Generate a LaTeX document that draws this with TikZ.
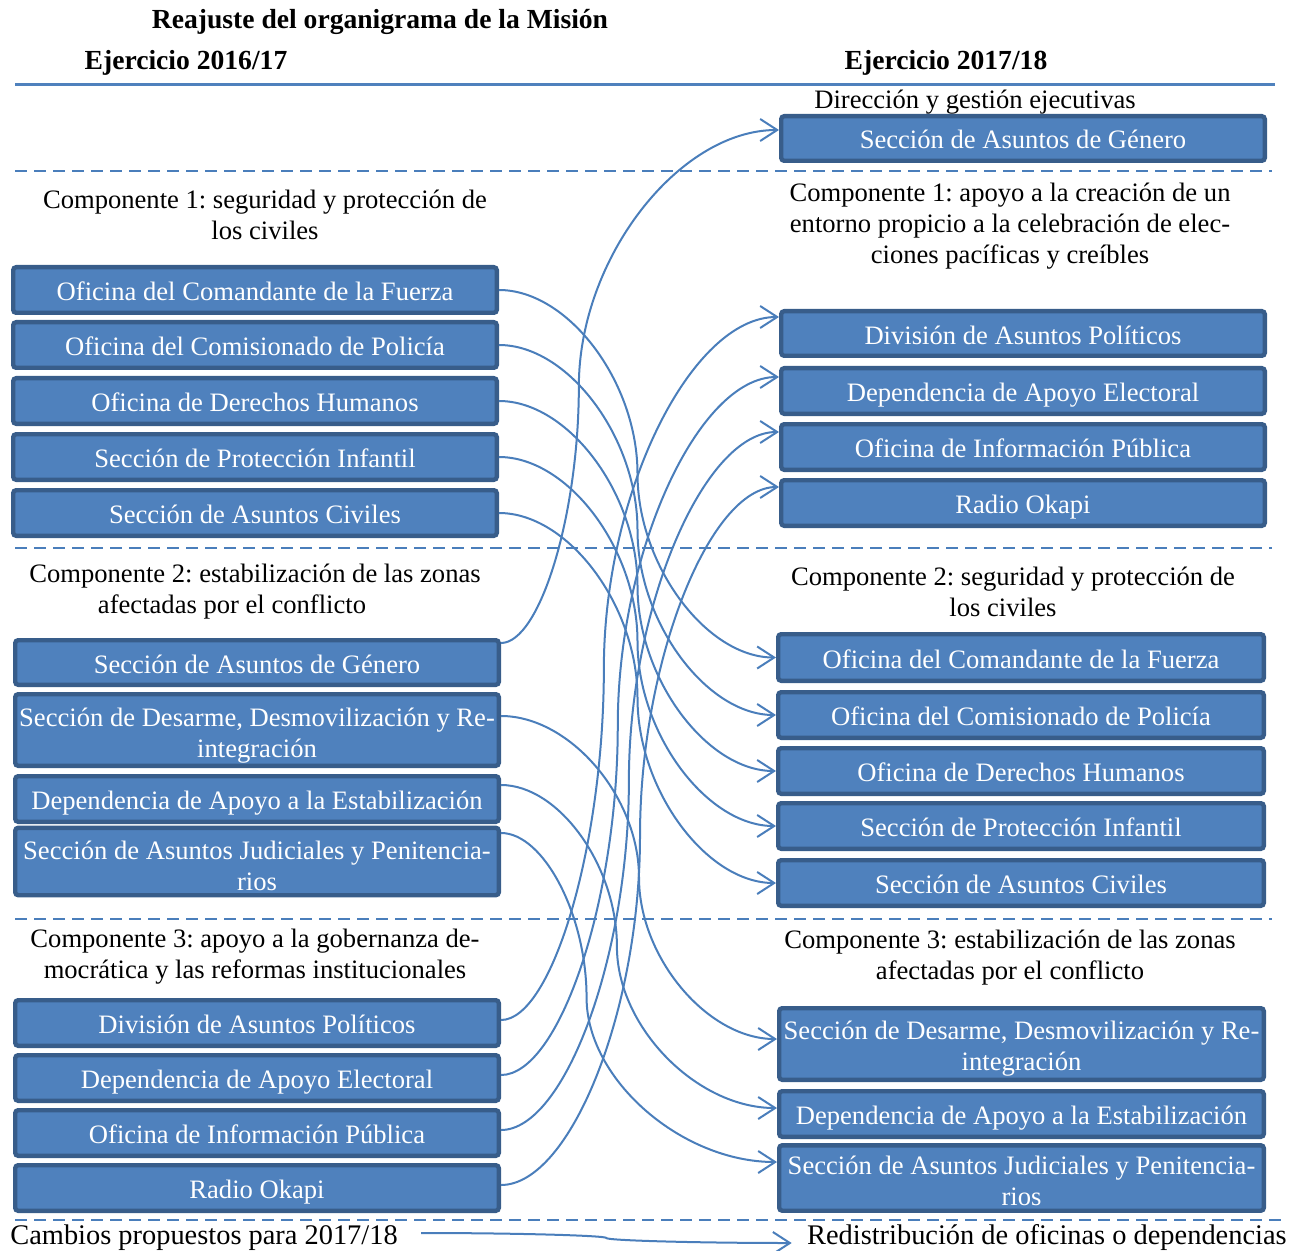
\documentclass[tikz,border=0pt]{standalone}
\usepackage{fontspec}
\setmainfont{Liberation Serif}
\usetikzlibrary{arrows.meta,calc}

\definecolor{boxfill}{HTML}{4F81BD}
\definecolor{boxedge}{HTML}{385D8A}
\definecolor{linkc}{HTML}{4A7EBB}

% invisible strut that fixes line height and depth
\newcommand\lnstrut{\rule[-2.5pt]{0pt}{15.5pt}}
% invisible strut that lifts the top of a first line
\newcommand\topstrut[1]{\rule{0pt}{#1}}

\begin{document}
\frenchspacing
\begin{tikzpicture}[x=0.5pt,y=-0.5pt,
  txt/.style={inner sep=0pt, execute at begin node=\lnstrut, execute at end node=\lnstrut},
  box/.style={txt, draw=boxedge, fill=boxfill, line width=2.2pt, rounded corners=1.5pt,
    text=white, align=center, font=\fontsize{13.3}{15.5}\selectfont},
  wd/.style={minimum width={(#1)*0.5pt-2.2pt}},
  ht/.style={minimum height={(#1)*0.5pt-2.2pt}},
  head/.style={txt, align=center, font=\fontsize{13.3}{15.5}\selectfont},
  ttl/.style={txt, font=\fontsize{13.8}{16}\selectfont\bfseries},
  legend/.style={txt, font=\fontsize{14.2}{16}\selectfont},
  sep/.style={draw=linkc, line width=1pt, dash pattern=on 6pt off 3.5pt},
  link/.style={draw=linkc, line width=1pt,
    -{Straight Barb[length=8.5pt,width=11pt,line width=1pt]}},
  % curved connector: horizontal at both ends, vertical at the middle,
  % the middle sitting at fraction #1 of the horizontal distance
  wc/.style={to path={
    let \p1=(\tikztostart), \p2=(\tikztotarget),
        \p3=({\x1+#1*(\x2-\x1)},{0.5*(\y1+\y2)}) in
    .. controls ({0.5*(\x1+\x3)},\y1) and (\x3,{0.5*(\y1+\y3)}) .. (\p3)
    .. controls (\x3,{0.5*(\y3+\y2)}) and ({0.5*(\x3+\x2)},\y2) .. (\tikztotarget)}},
  wc/.default=0.5]

\useasboundingbox (0,0) rectangle (1300,1251);

% titles
\node[ttl] (title) at (380,19) {Reajuste del organigrama de la Misión};
\node[ttl] (yearL) at (186,59) {Ejercicio 2016/17};
\node[ttl] (yearR) at (946,59) {Ejercicio 2017/18};
\draw[draw=boxfill, line width=1.5pt] (15,85) -- (1275,85);

% section separators
\draw[sep] (15,171) -- (1272,171);
\draw[sep] (15,548) -- (1272,548);
\draw[sep] (15,919) -- (1272,919);
\draw[sep] (15,1220) -- (1285,1220);

% ---------- 2016/17 ----------
\node[head] (hL1) at (265,217) {Componente 1: seguridad y protección de\\los civiles};
\node[box,wd=488,ht=50] (L1) at (255,290) {Oficina del Comandante de la Fuerza};
\node[box,wd=488,ht=50] (L2) at (255,345) {Oficina del Comisionado de Policía};
\node[box,wd=488,ht=50] (L3) at (255,401) {Oficina de Derechos Humanos};
\node[box,wd=488,ht=50] (L4) at (255,457) {Sección de Protección Infantil};
\node[box,wd=488,ht=50] (L5) at (255,513) {Sección de Asuntos Civiles};

\node[head] (hL2) at (255,592) {Componente 2: estabilización de las zonas\\afectadas por el conflicto\kern23pt};
\node[box,wd=488,ht=49] (L6) at (257,662.5) {Sección de Asuntos de Género};
\node[box,wd=488,ht=76] (L7) at (257,730) {\topstrut{14.8pt}Sección de Desarme, Desmovilización y Re-\\integración};
\node[box,wd=488,ht=50] (L8) at (257,799) {Dependencia de Apoyo a la Estabilización};
\node[box,wd=488,ht=63] (L9) at (257,861.5) {\topstrut{15.7pt}Sección de Asuntos Judiciales y Penitencia-\\rios};

\node[head] (hL3) at (255,957) {Componente 3: apoyo a la gobernanza de-\\mocrática y las reformas institucionales};
\node[box,wd=488,ht=50] (L10) at (257,1023) {División de Asuntos Políticos};
\node[box,wd=488,ht=50] (L11) at (257,1078) {Dependencia de Apoyo Electoral};
\node[box,wd=488,ht=50] (L12) at (257,1133) {Oficina de Información Pública};
\node[box,wd=488,ht=50] (L13) at (257,1188) {Radio Okapi};

% ---------- 2017/18 ----------
\node[head] (hR0) at (975,98) {Dirección y gestión ejecutivas};
\node[box,wd=488,ht=49] (RG) at (1023,138.5) {Sección de Asuntos de Género};

\node[head] (hR1) at (1010,226.5) {Componente 1: apoyo a la creación de un\\entorno propicio a la celebración de elec-\\ciones pacíficas y creíbles};
\node[box,wd=488,ht=49] (R1) at (1023,333.5) {División de Asuntos Políticos};
\node[box,wd=488,ht=50] (R2) at (1023,391) {Dependencia de Apoyo Electoral};
\node[box,wd=488,ht=50] (R3) at (1023,447) {Oficina de Información Pública};
\node[box,wd=488,ht=50] (R4) at (1023,503) {Radio Okapi};

\node[head] (hR2) at (1013,594) {Componente 2: seguridad y protección de\\los civiles\kern10pt};
\node[box,wd=490,ht=51] (R5) at (1021,657.5) {Oficina del Comandante de la Fuerza};
\node[box,wd=490,ht=50] (R6) at (1021,715) {Oficina del Comisionado de Policía};
\node[box,wd=490,ht=50] (R7) at (1021,771) {Oficina de Derechos Humanos};
\node[box,wd=490,ht=50] (R8) at (1021,826) {Sección de Protección Infantil};
\node[box,wd=490,ht=50] (R9) at (1021,883) {Sección de Asuntos Civiles};

\node[head] (hR3) at (1010,958) {Componente 3: estabilización de las zonas\\afectadas por el conflicto};
\node[box,wd=489,ht=76] (R10) at (1021.5,1044) {\topstrut{13.7pt}Sección de Desarme, Desmovilización y Re-\\integración};
\node[box,wd=489,ht=50] (R11) at (1021.5,1114) {Dependencia de Apoyo a la Estabilización};
\node[box,wd=489,ht=64] (R12) at (1021.5,1178) {\topstrut{14.7pt}Sección de Asuntos Judiciales y Penitencia-\\rios};

% ---------- redistribution connectors ----------
\draw[link] (L1.east) to[wc] (R5.west);
\draw[link] (L2.east) to[wc] (R6.west);
\draw[link] (L3.east) to[wc] (R7.west);
\draw[link] (L4.east) to[wc] (R8.west);
\draw[link] (L5.east) to[wc] (R9.west);
\draw[link] ([yshift=9.75pt]L6.east) to[wc=0.28] ([yshift=4.25pt]RG.west);
\draw[link] ([yshift=7pt]L7.east) to[wc] ([yshift=2.5pt]R10.west);
\draw[link] ([yshift=7pt]L8.east) to[wc=0.42] ([yshift=3pt]R11.west);
\draw[link] ([yshift=14.25pt]L9.east) to[wc=0.31] ([yshift=8pt]R12.west);
\draw[link] ([yshift=1.5pt]L10.east) to[wc=0.37] ([yshift=8.25pt]R1.west);
\draw[link] ([yshift=1.5pt]L11.east) to[wc=0.42] ([yshift=7pt]R2.west);
\draw[link] ([yshift=1.5pt]L12.east) to[wc=0.46] ([yshift=7.5pt]R3.west);
\draw[link] ([yshift=1.5pt]L13.east) to[wc=0.5] ([yshift=8pt]R4.west);

% ---------- legend ----------
\node[legend, anchor=west] (legL) at (10,1235) {Cambios propuestos para 2017/18};
\node[legend, anchor=east] (legR) at (1287,1235) {Redistribución de oficinas o dependencias};
\draw[link] ([xshift=11.5pt,yshift=1pt]legL.east) to[wc] ([xshift=-7.5pt,yshift=-4pt]legR.west);
\end{tikzpicture}
\end{document}
